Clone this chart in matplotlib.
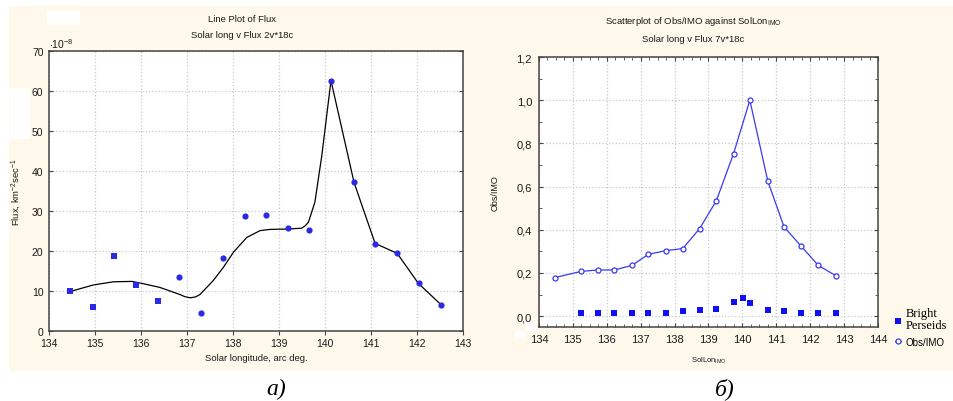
import numpy as np
import matplotlib
matplotlib.use("Agg")
import matplotlib.pyplot as plt
from matplotlib.patches import Rectangle

# ---- data ----
# left panel: flux points (x10^-8 km^-2 sec^-1)
flux_lon = [134.46, 134.95, 135.41, 135.89, 136.36, 136.83, 137.30, 137.79, 138.25,
            138.72, 139.20, 139.66, 140.13, 140.63, 141.09, 141.57, 142.04, 142.52]
flux_val = [10.0, 6.1, 18.7, 11.6, 7.6, 13.6, 4.4, 18.2, 28.75,
            29.0, 25.7, 25.2, 62.6, 37.25, 21.75, 19.4, 11.9, 6.6]
# smoothed line as drawn in the picture
fit_lon = [134.47, 134.96, 135.40, 135.80, 135.98, 136.41, 136.85, 136.95, 137.07, 137.18,
           137.28, 137.57, 137.79, 138.01, 138.30, 138.59, 138.80, 139.20, 139.49, 139.56,
           139.64, 139.78, 139.93, 140.13, 140.63, 140.83, 141.09, 141.57, 142.03, 142.52]
fit_val = [9.9, 11.5, 12.3, 12.4, 12.0, 10.9, 9.1, 8.6, 8.3, 8.5,
           9.1, 12.6, 15.9, 19.7, 23.4, 25.1, 25.4, 25.5, 25.7, 26.2,
           27.2, 32.2, 43.8, 62.6, 37.2, 30.5, 21.9, 19.4, 11.9, 6.6]

# right panel
imo_lon = [134.47, 135.23, 135.73, 136.22, 136.74, 137.22, 137.75, 138.24, 138.74,
           139.23, 139.74, 140.22, 140.75, 141.23, 141.74, 142.24, 142.76]
imo_val = [0.179, 0.207, 0.214, 0.214, 0.235, 0.286, 0.304, 0.313, 0.406,
           0.534, 0.753, 1.0, 0.625, 0.413, 0.323, 0.235, 0.187]
bright_lon = [135.23, 135.73, 136.22, 136.74, 137.22, 137.75, 138.24, 138.74, 139.23,
              139.74, 140.03, 140.23, 140.75, 141.23, 141.74, 142.24, 142.76]
bright_val = [0.016, 0.016, 0.016, 0.016, 0.016, 0.016, 0.023, 0.029, 0.034,
              0.066, 0.085, 0.060, 0.029, 0.023, 0.016, 0.016, 0.016]

left_xticks = list(range(134, 144))
left_yticks = list(range(0, 80, 10))
right_xticks = list(range(134, 145))
right_yticks = [0.0, 0.2, 0.4, 0.6, 0.8, 1.0, 1.2]
right_ylabels = ["0,0", "0,2", "0,4", "0,6", "0,8", "1,0", "1,2"]

W, H = 954, 402
SANS = ["Liberation Sans", "DejaVu Sans"]
SERIF = ["Liberation Serif", "DejaVu Serif"]
plt.rcParams["font.family"] = SANS
plt.rcParams["mathtext.fontset"] = "custom"
plt.rcParams["mathtext.rm"] = "Liberation Sans"
plt.rcParams["mathtext.it"] = "Liberation Sans"

TXT = "#1a1a1a"
SPINE = "#444444"
BLUE = "#2a2ae6"


def fx(px):
    return px / W


def fy(py):
    return 1 - py / H


def rect(x0, y0, x1, y1, color, z=-2):
    fig.patches.append(Rectangle((fx(x0), fy(y1)), fx(x1) - fx(x0), (y1 - y0) / H,
                                 transform=fig.transFigure, color=color, zorder=z,
                                 linewidth=0))


fig = plt.figure(figsize=(W / 100, H / 100), dpi=100)
fig.patch.set_facecolor("white")
rect(9, 7, 954, 372, "#fff9ec", -2)
# blanked bits
rect(47, 12, 80, 26, "white", -1)
rect(10, 89, 30, 140, "white", -1)
rect(525, 323, 536, 332, "white", -1)
rect(515, 332, 525, 340, "white", -1)


def style_axes(ax):
    ax.set_facecolor("white")
    for s in ax.spines.values():
        s.set_color(SPINE)
        s.set_linewidth(1.1)
    ax.grid(True, which="major", color="#c8c8c8", linestyle=":", linewidth=0.9)
    ax.set_axisbelow(True)


# ---- left: Line Plot of Flux ----
ax1 = fig.add_axes([fx(49), fy(332), fx(463) - fx(49), (332 - 52) / H])
style_axes(ax1)
ax1.plot(fit_lon, fit_val, color="black", lw=0.9, zorder=2)
ax1.scatter(flux_lon[:5], flux_val[:5], marker="s", s=16, color=BLUE, zorder=3, linewidths=0)
ax1.scatter(flux_lon[5:], flux_val[5:], marker="o", s=20, color=BLUE, zorder=3, linewidths=0)
ax1.set_xlim(134, 143)
ax1.set_ylim(0, 70)
ax1.set_xticks(left_xticks)
ax1.set_yticks(left_yticks)
ax1.tick_params(axis="y", direction="in", length=3, labelsize=7.5, colors=SPINE,
                labelcolor=TXT, right=True, pad=4)
ax1.tick_params(axis="x", direction="out", length=3, labelsize=7.5, colors=SPINE,
                labelcolor=TXT, pad=2)
ax1.set_xlabel("Solar longitude, arc deg.", fontsize=6.8, color=TXT, labelpad=4)
ax1.set_ylabel(r"Flux, km$^{-2}$sec$^{-1}$", fontsize=6.8, color=TXT, labelpad=6)
ax1.text(0.0, 1.005, r"$\cdot$10$^{-8}$", transform=ax1.transAxes, fontsize=7.5,
         color=TXT, ha="left", va="bottom")
fig.text(fx(242), fy(20), "Line Plot of Flux", fontsize=6.8, color=TXT, ha="center", va="center")
fig.text(fx(242), fy(36), "Solar long v Flux 2v*18c", fontsize=6.8, color=TXT,
         ha="center", va="center")

# ---- right: Scatterplot of Obs/IMO ----
ax2 = fig.add_axes([fx(539), fy(328), fx(878) - fx(539), (328 - 58) / H])
style_axes(ax2)
h_bright = ax2.scatter(bright_lon, bright_val, marker="s", s=20, color="#1010f0",
                       linewidths=0, zorder=3, label="Bright\nPerseids")
h_imo, = ax2.plot(imo_lon, imo_val, color="#3a3af0", lw=0.9, marker="o", markersize=3.6,
                  markerfacecolor="white", markeredgecolor="#3a3af0", markeredgewidth=0.9,
                  zorder=3, label="Obs/IMO")
ax2.set_xlim(134, 144)
ax2.set_ylim(-0.05, 1.2)
ax2.set_xticks(right_xticks)
ax2.set_xticks(np.arange(134, 144.01, 0.25), minor=True)
ax2.set_yticks(right_yticks)
ax2.set_yticklabels(right_ylabels)
ax2.set_yticks(np.arange(0, 1.21, 0.1), minor=True)
ax2.tick_params(which="both", direction="in", top=True, right=True, colors=SPINE,
                labelcolor=TXT, labelsize=8)
ax2.tick_params(which="major", length=3, pad=5)
ax2.tick_params(which="minor", length=2)
ax2.set_xlabel(r"SolLon$_{\mathrm{IMO}}$", fontsize=5.5, color=TXT, labelpad=8)
ax2.set_ylabel("Obs/IMO", fontsize=6.5, color=TXT, labelpad=12)
fig.text(fx(693), fy(22), r"Scatterplot of Obs/IMO against SolLon$_{\mathrm{IMO}}$",
         fontsize=6.8, color=TXT, ha="center", va="center")
fig.text(fx(693), fy(40), "Solar long v Flux 7v*18c", fontsize=6.8, color=TXT,
         ha="center", va="center")

leg = fig.legend(handles=[h_bright, h_imo], loc="upper left",
                 bbox_to_anchor=(fx(895), fy(308)), frameon=False, fontsize=7,
                 handlelength=0.6, handletextpad=0.5, labelspacing=0.6,
                 borderpad=0, borderaxespad=0)
leg.get_texts()[0].set_fontfamily(SERIF)
leg.get_texts()[0].set_fontsize(9)
leg.get_texts()[0].set_linespacing(1.0)

# panel captions
fig.text(fx(276), fy(389), "а)", fontsize=17, family=SERIF, style="italic",
         ha="center", va="center", color="black")
fig.text(fx(725), fy(389), "б)", fontsize=17, family=SERIF, style="italic",
         ha="center", va="center", color="black")

fig.savefig("out.png", dpi=100, facecolor=fig.get_facecolor())
